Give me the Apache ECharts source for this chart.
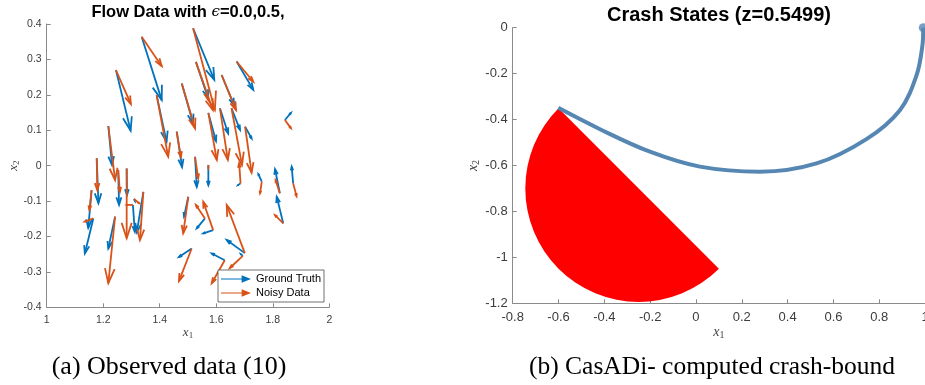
<!DOCTYPE html>
<html>
<head>
<meta charset="utf-8">
<script src="https://cdn.jsdelivr.net/npm/echarts@6/dist/echarts.min.js"></script>
<style>
html, body { margin: 0; padding: 0; background: #fff; }
#main { width: 925px; height: 385px; }
</style>
</head>
<body>
<div id="main"></div>
<script>
// (a) flow data: base points of the arrows
var baseX = [1.336, 1.245, 1.389, 1.218, 1.478, 1.460, 1.518, 1.528, 1.672, 1.619,
             1.572, 1.613, 1.654, 1.702, 1.843, 1.177, 1.253, 1.283, 1.305, 1.342,
             1.309, 1.159, 1.165, 1.242, 1.525, 1.572, 1.501, 1.686, 1.761, 1.825,
             1.872, 1.837, 1.560, 1.589, 1.701, 1.694, 1.630, 1.513];
var baseY = [0.364, 0.270, 0.199, 0.112, 0.232, 0.096, 0.388, 0.293, 0.294, 0.256,
             0.149, 0.162, 0.162, 0.110, 0.129, 0.021, -0.012, -0.008, -0.111, -0.074,
             -0.094, -0.069, -0.149, -0.144, 0.025, 0.002, -0.088, -0.050, -0.045, -0.078,
             -0.050, -0.163, -0.149, -0.182, -0.247, -0.255, -0.267, -0.234];
// ground truth arrow tips
var truthEndX = [1.407, 1.297, 1.424, 1.231, 1.518, 1.479, 1.593, 1.571, 1.731, 1.663,
                 1.599, 1.642, 1.684, 1.725, 1.864, 1.183, 1.256, 1.284, 1.312, 1.319,
                 1.312, 1.147, 1.135, 1.218, 1.531, 1.572, 1.486, 1.677, 1.749, 1.808,
                 1.867, 1.814, 1.531, 1.554, 1.637, 1.687, 1.584, 1.468];
var truthEndY = [0.185, 0.099, 0.068, 0.002, 0.120, -0.004, 0.242, 0.191, 0.214, 0.171,
                 0.069, 0.091, 0.101, 0.077, 0.149, -0.106, -0.111, -0.083, -0.187, -0.188,
                 -0.100, -0.176, -0.248, -0.234, -0.060, -0.055, -0.144, -0.055, -0.024, -0.010,
                 -0.003, -0.088, -0.177, -0.191, -0.210, -0.250, -0.248, -0.258];
// noisy data arrow tips
var noisyEndX = [1.407, 1.298, 1.430, 1.242, 1.525, 1.475, 1.595, 1.588, 1.731, 1.670,
                 1.602, 1.641, 1.691, 1.725, 1.864, 1.179, 1.259, 1.283, 1.284, 1.330,
                 1.327, 1.151, 1.135, 1.218, 1.536, 1.572, 1.483, 1.681, 1.755, 1.810,
                 1.884, 1.808, 1.528, 1.554, 1.637, 1.648, 1.584, 1.468];
var noisyEndY = [0.281, 0.174, 0.025, -0.041, 0.105, 0.024, 0.157, 0.157, 0.237, 0.157,
                 0.016, 0.016, 0.002, -0.020, 0.106, -0.069, -0.074, -0.205, -0.111, -0.210,
                 -0.106, -0.125, -0.158, -0.332, -0.036, -0.007, -0.191, 0.007, -0.078, -0.041,
                 -0.086, -0.140, -0.111, -0.102, -0.111, -0.289, -0.332, -0.326];

// (b) crash states: trajectory and crash-bound half disc
var pathX = [-0.601, -0.419, -0.201, 0.017, 0.279, 0.526, 0.744, 0.890, 0.963, 0.988, 0.992];
var pathY = [-0.349, -0.442, -0.540, -0.605, -0.627, -0.591, -0.485, -0.359, -0.206, -0.080, 0.0];
var discCenter = [-0.25, -0.70];
var discRadius = 0.495;
var discAngles = [45, 225];

// axis ranges [min, max, step]
var flowX = [1, 2, 0.2];
var flowY = [-0.4, 0.4, 0.1];
var crashX = [-0.8, 1, 0.2];
var crashY = [-1.2, 0, 0.2];

var BLUE = '#0072BD', ORANGE = '#D95319', PATH = '#5687b3';

function pairs(x0, y0, x1, y1) {
    var out = [];
    for (var i = 0; i < x0.length; i++) out.push([x0[i], y0[i], x1[i], y1[i]]);
    return out;
}

// quiver style arrow: shaft + open head
function arrowItem(params, api) {
    var p0 = api.coord([api.value(0), api.value(1)]);
    var p1 = api.coord([api.value(2), api.value(3)]);
    var dx = p1[0] - p0[0], dy = p1[1] - p0[1];
    var len = Math.sqrt(dx * dx + dy * dy) || 1;
    var ux = dx / len, uy = dy / len;
    var h = len * 0.22, w = h * 0.33;
    var bx = p1[0] - ux * h, by = p1[1] - uy * h;
    var style = { stroke: api.visual('color'), lineWidth: 1.8, fill: null };
    return {
        type: 'group',
        children: [
            { type: 'line', shape: { x1: p0[0], y1: p0[1], x2: p1[0], y2: p1[1] }, style: style },
            { type: 'polyline', shape: { points: [[bx - uy * w, by + ux * w], [p1[0], p1[1]], [bx + uy * w, by - ux * w]] }, style: style }
        ]
    };
}

function discItem(params, api) {
    var c = api.coord([api.value(0), api.value(1)]);
    var r = api.size([api.value(2), api.value(2)])[0];
    return {
        type: 'sector',
        shape: { cx: c[0], cy: c[1], r0: 0, r: r,
                 startAngle: api.value(3) * Math.PI / 180, endAngle: api.value(4) * Math.PI / 180, clockwise: true },
        style: { fill: '#ff0000' }
    };
}

function subName(size) {
    return {
        color: '#444',
        rich: {
            i: { fontFamily: 'Liberation Serif', fontStyle: 'italic', fontSize: size, lineHeight: size + 1, verticalAlign: 'top', color: '#444' },
            s: { fontFamily: 'Liberation Serif', fontSize: size - 4, lineHeight: size - 3, padding: [6, 0, 0, 0], verticalAlign: 'bottom', color: '#444' }
        }
    };
}

function valueAxis(grid, range, fontSize, margin, extra) {
    var ax = {
        type: 'value', gridIndex: grid,
        min: range[0], max: range[1], interval: range[2],
        nameMoveOverlap: false,
        axisLine: { show: true, onZero: false, lineStyle: { color: '#8a8a8a', width: 1 } },
        axisTick: { show: true, inside: true, length: 4, lineStyle: { color: '#8a8a8a' } },
        axisLabel: { color: '#3c3c3c', fontSize: fontSize, fontFamily: 'Liberation Sans', margin: margin, showMinLabel: true, showMaxLabel: true },
        splitLine: { show: false }
    };
    for (var k in extra) ax[k] = extra[k];
    return ax;
}

var myChart = echarts.init(document.getElementById('main'));
var option = {
    backgroundColor: '#fff',
    animation: false,
    title: [{
        text: 'Flow Data with {e|\u03f5}=0.0,0.5,',
        left: 188, top: 4, padding: 0, textAlign: 'center',
        textStyle: { fontFamily: 'Liberation Sans', fontWeight: 'bold', fontSize: 16.5, color: '#000',
            rich: { e: { fontFamily: 'DejaVu Serif', fontStyle: 'italic', fontWeight: 'normal', fontSize: 15, color: '#000' } } }
    }, {
        text: 'Crash States (z=0.5499)',
        left: 719, top: 5, padding: 0, textAlign: 'center',
        textStyle: { fontFamily: 'Liberation Sans', fontWeight: 'bold', fontSize: 20, color: '#000' }
    }, {
        text: '(a) Observed data (10)',
        left: 169, top: 354, padding: 0, textAlign: 'center',
        textStyle: { fontFamily: 'Liberation Serif', fontWeight: 'normal', fontSize: 26, color: '#000' }
    }, {
        text: '(b) CasADi- computed crash-bound',
        left: 712, top: 354, padding: 0, textAlign: 'center',
        textStyle: { fontFamily: 'Liberation Serif', fontWeight: 'normal', fontSize: 25.5, color: '#000' }
    }],
    legend: {
        data: ['Ground Truth', 'Noisy Data'],
        left: 218, top: 270, orient: 'vertical',
        icon: 'path://M0,3.4L22,3.4L22,0L32,4L22,8L22,4.6L0,4.6Z',
        itemWidth: 30, itemHeight: 7.5, itemGap: 2,
        padding: [3, 3, 3, 3],
        backgroundColor: '#fff', borderColor: '#4d4d4d', borderWidth: 0.8, borderRadius: 0,
        textStyle: { fontFamily: 'Liberation Sans', fontSize: 11, color: '#000', lineHeight: 12 }
    },
    grid: [
        { left: 46.7, top: 24, width: 282.6, height: 283.3, outerBoundsMode: 'none' },
        { left: 512.7, top: 27.7, width: 412.4, height: 275.6, outerBoundsMode: 'none' }
    ],
    xAxis: [
        valueAxis(0, flowX, 10.5, 7, { name: '{i|x}{s|1}', nameLocation: 'middle', nameGap: 19, nameTextStyle: subName(13) }),
        valueAxis(1, crashX, 13, 8, { name: '{i|x}{s|1}', nameLocation: 'middle', nameGap: 22, nameTextStyle: subName(14) })
    ],
    yAxis: [
        valueAxis(0, flowY, 10.5, 5, { name: '{i|x}{s|2}', nameLocation: 'middle', nameGap: 26, nameTextStyle: subName(13) }),
        valueAxis(1, crashY, 13, 5, { name: '{i|x}{s|2}', nameLocation: 'middle', nameGap: 31, nameTextStyle: subName(14) })
    ],
    series: [{
        name: 'Ground Truth',
        type: 'custom',
        xAxisIndex: 0, yAxisIndex: 0,
        itemStyle: { color: BLUE },
        renderItem: arrowItem,
        encode: { x: [0, 2], y: [1, 3] },
        data: pairs(baseX, baseY, truthEndX, truthEndY)
    }, {
        name: 'Noisy Data',
        type: 'custom',
        xAxisIndex: 0, yAxisIndex: 0,
        itemStyle: { color: ORANGE },
        renderItem: arrowItem,
        encode: { x: [0, 2], y: [1, 3] },
        data: pairs(baseX, baseY, noisyEndX, noisyEndY)
    }, {
        name: 'crash bound',
        type: 'custom',
        xAxisIndex: 1, yAxisIndex: 1,
        itemStyle: { color: '#ff0000' },
        renderItem: discItem,
        encode: { x: 0, y: 1 },
        data: [[discCenter[0], discCenter[1], discRadius, discAngles[0], discAngles[1]]]
    }, {
        name: 'trajectory',
        type: 'line',
        xAxisIndex: 1, yAxisIndex: 1,
        smooth: 0.35,
        showSymbol: false,
        clip: false,
        lineStyle: { color: PATH, width: 4 },
        data: pathX.map(function (x, i) { return [x, pathY[i]]; })
    }, {
        name: 'end',
        type: 'scatter',
        xAxisIndex: 1, yAxisIndex: 1,
        clip: false,
        symbolSize: 9,
        itemStyle: { color: PATH },
        data: [[pathX[pathX.length - 1], pathY[pathY.length - 1]]]
    }]
};
myChart.setOption(option);
window.addEventListener('resize', function () {
    myChart.resize();
});
</script>
</body>
</html>
